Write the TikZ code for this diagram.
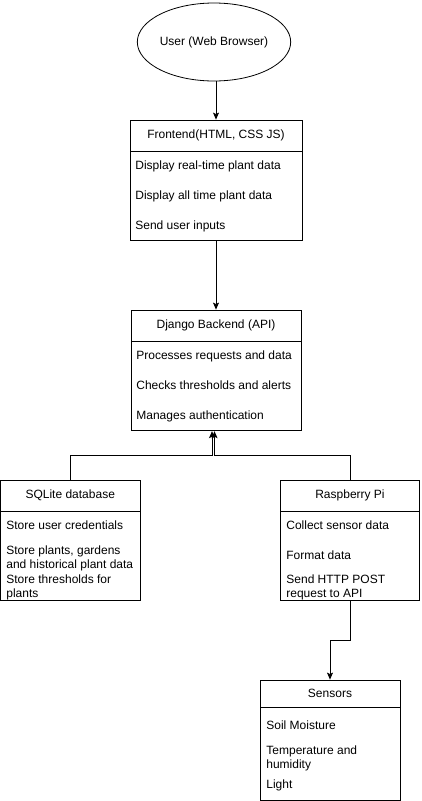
\documentclass[tikz,border=0pt]{standalone}
\usepackage{fontspec}
\setmainfont{Liberation Sans}
\usetikzlibrary{shapes.geometric,arrows.meta,positioning}

\tikzset{
  head/.style={draw, minimum height=31pt, inner sep=0pt, font=\fontsize{12}{14}\selectfont},
  body/.style={draw, inner sep=0pt},
  item/.style={anchor=west, inner sep=0pt, text height=9pt, text depth=3pt,
    font=\fontsize{12}{14}\selectfont},
  item2/.style={anchor=west, inner sep=0pt, align=left, font=\fontsize{12}{14}\selectfont},
  flow/.style={-{Stealth[length=7pt,width=6pt,inset=1.5pt]}},
}

\begin{document}
\begin{tikzpicture}[x=1pt,y=-1pt,line width=0.8pt]
  \useasboundingbox (0,0) rectangle (421,801);

  \node[draw, ellipse, minimum width=114pt, minimum height=78pt, inner sep=0pt,
    font=\fontsize{12}{14}\selectfont] (user) at (214,42) {User (Web Browser)};

  % frontend
  \node[head, minimum width=172pt] (feh) at (216,135.5) {Frontend(HTML, CSS JS)};
  \node[body, minimum width=172pt, minimum height=89pt, below=0pt of feh] (fe) {};
  \node[item] (fe1) at (135,166) {Display real-time plant data};
  \node[item] (fe2) at (135,196) {Display all time plant data};
  \node[item] (fe3) at (135,226) {Send user inputs};

  % backend
  \node[head, minimum width=170pt] (djh) at (216,325.5) {Django Backend (API)};
  \node[body, minimum width=170pt, minimum height=89pt, below=0pt of djh] (dj) {};
  \node[item] (dj1) at (136,356) {Processes requests and data};
  \node[item] (dj2) at (136,386) {Checks thresholds and alerts};
  \node[item] (dj3) at (136,416) {Manages authentication};

  % database
  \node[head, minimum width=139.5pt] (dbh) at (70.25,495.5) {SQLite database};
  \node[body, minimum width=139.5pt, minimum height=89pt, below=0pt of dbh] (db) {};
  \node[item] (db1) at (6,526) {Store user credentials};
  \node[item2] (db2) at (6,558) {Store plants, gardens\\and historical plant data};
  \node[item2] (db3) at (6,587) {Store thresholds for\\plants};

  % raspberry pi
  \node[head, minimum width=139pt] (pih) at (350,495.5) {Raspberry Pi};
  \node[body, minimum width=139pt, minimum height=89pt, below=0pt of pih] (pi) {};
  \node[item] (pi1) at (286,526) {Collect sensor data};
  \node[item] (pi2) at (286,556) {Format data};
  \node[item2] (pi3) at (286,587) {Send HTTP POST\\request to API};

  % sensors
  \node[head, minimum width=140pt, minimum height=27pt] (snh) at (330,693.5) {Sensors};
  \node[body, minimum width=140pt, minimum height=93pt, below=0pt of snh] (sn) {};
  \node[item] (sn1) at (266,726) {Soil Moisture};
  \node[item2] (sn2) at (266,758) {Temperature and\\humidity};
  \node[item] (sn3) at (266,785) {Light};

  \coordinate (jl) at (212,455);
  \coordinate (jr) at (214.5,455);
  \coordinate (ps) at (330,640);

  \begin{scope}[flow]
    \draw (feh.north |- user.south) to (feh.north);
    \draw (fe.south) to (djh.north);
    \draw (dbh.north) |- (jl) -- (jl |- dj.south);
    \draw (pih.north) |- (jr) -- (jr |- dj.south);
    \draw (pi.south) |- (ps) -- (snh.north);
  \end{scope}
\end{tikzpicture}
\end{document}
